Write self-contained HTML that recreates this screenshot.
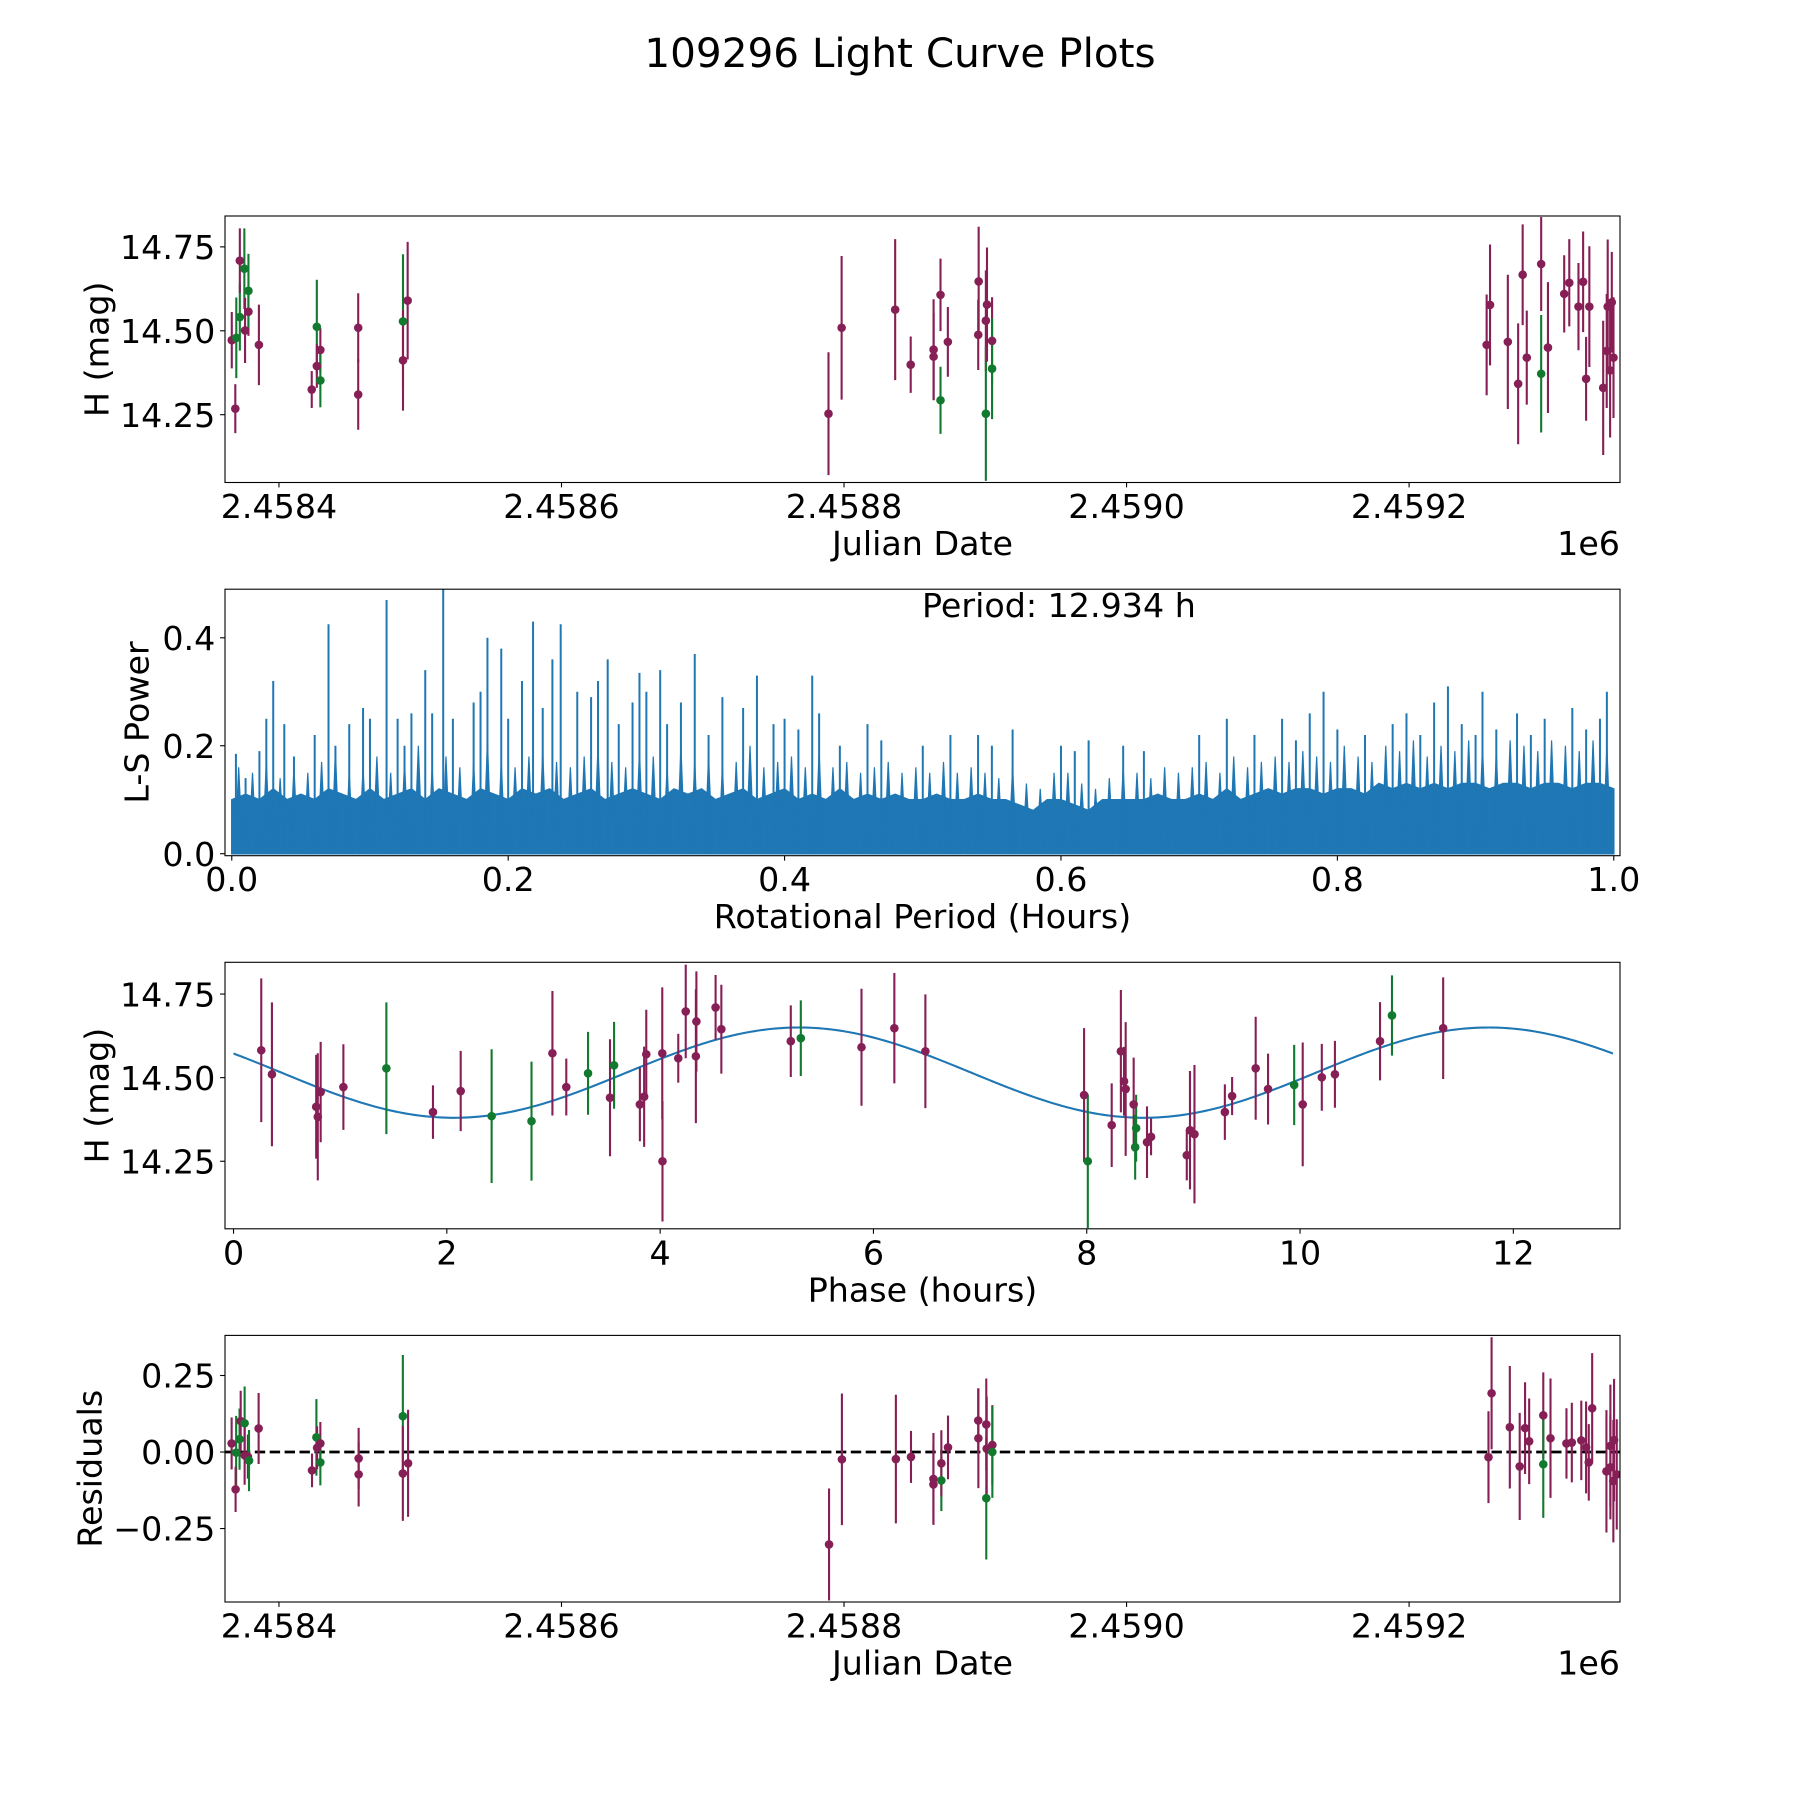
<!DOCTYPE html>
<html><head><meta charset="utf-8"><title>109296 Light Curve Plots</title>
<style>
html,body{margin:0;padding:0;background:#fff;}
svg{display:block;font-family:"DejaVu Sans","Liberation Sans",sans-serif;}
</style></head>
<body>
<svg id="fig" xmlns="http://www.w3.org/2000/svg" width="1800" height="1800" viewBox="0 0 1800 1800">
<rect x="0" y="0" width="1800" height="1800" fill="#fff"/>
<text x="900" y="67" font-size="40.5" text-anchor="middle" fill="#000">109296 Light Curve Plots</text>
</svg>
<script>
// ---------- data: top light curve (days after JD 2458400) ----------
const lcDays = [-33.4,-30.9,-30.2,-27.7,-27.7,-24.5,-24,-21.6,-21.6,-14.2,23.2,26.8,26.8,29.3,29.3,56.1,56.1,87.8,87.8,91.1,389,398.3,436.2,447.2,463.4,463.4,468.3,468.3,473.5,495,495.3,500.4,500.4,501.2,504.8,504.8,854.9,857.3,869.9,877.2,880.4,883.3,893.5,893.5,898.3,909.8,913.4,919.9,923.2,925.3,927.6,937.4,939.9,940.6,942.3,943.5,944.7];
const lcMags = [14.472,14.268,14.479,14.541,14.709,14.685,14.501,14.557,14.619,14.458,14.325,14.512,14.395,14.443,14.352,14.509,14.31,14.528,14.412,14.59,14.253,14.509,14.563,14.399,14.444,14.423,14.607,14.293,14.467,14.488,14.647,14.53,14.253,14.578,14.47,14.387,14.458,14.577,14.467,14.342,14.667,14.42,14.699,14.372,14.45,14.61,14.643,14.572,14.646,14.357,14.572,14.33,14.44,14.572,14.382,14.585,14.42];
const lcErrs = [0.084,0.073,0.12,0.1,0.096,0.12,0.097,0.072,0.11,0.12,0.055,0.14,0.065,0.065,0.08,0.103,0.105,0.2,0.15,0.175,0.183,0.214,0.21,0.084,0.15,0.13,0.108,0.1,0.104,0.105,0.163,0.15,0.2,0.17,0.13,0.15,0.15,0.18,0.2,0.18,0.15,0.14,0.14,0.175,0.195,0.115,0.13,0.13,0.15,0.125,0.18,0.2,0.17,0.2,0.2,0.15,0.18];
const lcBand = ['p','p','g','g','p','g','p','p','g','p','p','g','p','p','g','p','p','g','p','p','p','p','p','p','p','p','p','g','p','p','p','p','g','p','p','g','p','p','p','p','p','p','p','g','p','p','p','p','p','p','p','p','p','p','p','p','p'];
const jdTickDays = [0,200,400,600,800];
const jdTickLabels = ['2.4584','2.4586','2.4588','2.4590','2.4592'];
const magTicks = [14.25,14.5,14.75];
const magTickLabels = ['14.25','14.50','14.75'];

// ---------- data: periodogram ----------
const bulkPeriods = [0,0.01,0.02,0.03,0.04,0.05,0.06,0.07,0.08,0.09,0.1,0.11,0.12,0.13,0.14,0.15,0.16,0.17,0.18,0.19,0.2,0.21,0.22,0.23,0.24,0.25,0.26,0.27,0.28,0.29,0.3,0.31,0.32,0.33,0.34,0.35,0.36,0.37,0.38,0.39,0.4,0.41,0.42,0.43,0.44,0.45,0.46,0.47,0.48,0.49,0.5,0.51,0.52,0.53,0.54,0.55,0.56,0.57,0.58,0.59,0.6,0.61,0.62,0.63,0.64,0.65,0.66,0.67,0.68,0.69,0.7,0.71,0.72,0.73,0.74,0.75,0.76,0.77,0.78,0.79,0.8,0.81,0.82,0.83,0.84,0.85,0.86,0.87,0.88,0.89,0.9,0.91,0.92,0.93,0.94,0.95,0.96,0.97,0.98,0.99,1.0];
const bulkPowers = [.10,.11,.10,.12,.10,.11,.10,.12,.11,.10,.12,.10,.11,.12,.10,.12,.11,.10,.12,.11,.10,.12,.11,.12,.10,.11,.12,.10,.11,.12,.11,.10,.12,.11,.12,.10,.11,.12,.10,.11,.12,.10,.11,.10,.12,.10,.11,.10,.11,.10,.10,.11,.10,.10,.11,.10,.10,.09,.08,.10,.10,.09,.08,.10,.10,.10,.10,.11,.10,.10,.11,.10,.12,.10,.11,.12,.11,.12,.12,.11,.12,.12,.11,.13,.12,.13,.12,.13,.12,.13,.13,.12,.13,.13,.12,.13,.13,.12,.13,.13,.12];
const midPeriods = [0.005,0.015,0.025,0.035,0.045,0.055,0.065,0.075,0.085,0.095,0.105,0.115,0.125,0.135,0.145,0.155,0.165,0.175,0.185,0.195,0.205,0.215,0.225,0.235,0.245,0.255,0.265,0.275,0.285,0.295,0.305,0.315,0.325,0.335,0.345,0.355,0.365,0.375,0.385,0.395,0.405,0.415,0.425,0.435,0.445,0.455,0.465,0.475,0.485,0.495,0.505,0.515,0.525,0.535,0.545,0.555,0.565,0.575,0.585,0.595,0.605,0.615,0.625,0.635,0.645,0.655,0.665,0.675,0.685,0.695,0.705,0.715,0.725,0.735,0.745,0.755,0.765,0.775,0.785,0.795,0.805,0.815,0.825,0.835,0.845,0.855,0.865,0.875,0.885,0.895,0.905,0.915,0.925,0.935,0.945,0.955,0.965,0.975,0.985,0.995];
const midPowers = [.16,.15,.17,.14,.16,.15,.17,.19,.15,.16,.18,.15,.17,.2,.16,.18,.16,.17,.21,.17,.16,.18,.19,.17,.16,.18,.2,.17,.16,.19,.18,.16,.2,.17,.18,.16,.17,.2,.16,.17,.18,.16,.19,.16,.17,.15,.16,.17,.15,.16,.15,.17,.15,.16,.15,.14,.16,.13,.12,.15,.15,.13,.12,.14,.16,.15,.14,.16,.15,.16,.17,.15,.18,.16,.17,.18,.17,.19,.18,.17,.2,.18,.17,.2,.19,.21,.18,.2,.19,.21,.2,.19,.21,.2,.19,.21,.2,.19,.21,.2];
const peakPeriods = [0.003,0.01,0.02,0.025,0.03,0.038,0.045,0.06,0.07,0.075,0.085,0.095,0.1,0.112,0.12,0.125,0.13,0.14,0.145,0.153,0.16,0.175,0.18,0.185,0.195,0.2,0.21,0.218,0.225,0.232,0.238,0.25,0.26,0.265,0.272,0.28,0.29,0.295,0.3,0.31,0.315,0.325,0.335,0.345,0.355,0.37,0.38,0.392,0.4,0.41,0.42,0.425,0.44,0.46,0.47,0.5,0.52,0.54,0.55,0.565,0.6,0.61,0.62,0.645,0.66,0.7,0.72,0.74,0.76,0.77,0.78,0.79,0.8,0.82,0.84,0.85,0.86,0.87,0.88,0.89,0.9,0.905,0.915,0.93,0.94,0.95,0.97,0.98,0.99,0.995];
const peakPowers = [0.185,0.14,0.19,0.25,0.32,0.24,0.18,0.22,0.425,0.2,0.24,0.27,0.25,0.47,0.25,0.2,0.26,0.34,0.26,0.49,0.25,0.28,0.3,0.4,0.38,0.25,0.32,0.43,0.27,0.36,0.425,0.3,0.29,0.32,0.36,0.24,0.28,0.335,0.3,0.34,0.24,0.28,0.37,0.22,0.29,0.27,0.33,0.24,0.25,0.23,0.33,0.26,0.2,0.24,0.21,0.2,0.22,0.22,0.2,0.23,0.2,0.19,0.21,0.2,0.19,0.22,0.25,0.22,0.25,0.21,0.26,0.3,0.23,0.22,0.24,0.26,0.22,0.28,0.31,0.24,0.22,0.3,0.23,0.26,0.22,0.25,0.27,0.23,0.25,0.3];
const perXTicks = [0,0.2,0.4,0.6,0.8,1.0];
const perXLabels = ['0.0','0.2','0.4','0.6','0.8','1.0'];
const perYTicks = [0,0.2,0.4];
const perYLabels = ['0.0','0.2','0.4'];

// ---------- data: phased light curve ----------
const phHours = [0.26,0.36,0.775,0.79,0.817,1.03,1.433,1.87,2.13,2.42,2.794,2.99,3.12,3.324,3.53,3.568,3.81,3.85,3.87,4.022,4.02,4.17,4.24,4.335,4.34,4.52,4.574,5.225,5.319,5.888,6.196,6.487,7.975,8.01,8.234,8.32,8.35,8.365,8.44,8.463,8.454,8.565,8.603,8.938,8.968,9.01,9.295,9.363,9.584,9.7,9.945,10.025,10.204,10.327,10.75,10.862,11.342];
const phMags = [14.582,14.51,14.413,14.383,14.457,14.472,14.528,14.397,14.46,14.385,14.37,14.573,14.472,14.513,14.44,14.537,14.42,14.443,14.57,14.25,14.573,14.558,14.698,14.564,14.668,14.71,14.645,14.609,14.618,14.591,14.648,14.579,14.448,14.25,14.358,14.579,14.489,14.466,14.42,14.349,14.292,14.307,14.323,14.268,14.343,14.331,14.397,14.445,14.528,14.466,14.478,14.42,14.501,14.51,14.609,14.686,14.648];
const phErrs = [0.215,0.215,0.155,0.19,0.15,0.128,0.197,0.08,0.12,0.2,0.178,0.186,0.085,0.124,0.175,0.13,0.11,0.15,0.133,0.18,0.197,0.073,0.14,0.2,0.15,0.097,0.133,0.107,0.113,0.175,0.165,0.17,0.2,0.2,0.125,0.183,0.103,0.2,0.14,0.1,0.097,0.107,0.055,0.075,0.177,0.207,0.083,0.057,0.154,0.106,0.12,0.185,0.1,0.1,0.117,0.12,0.152];
const phBand = ['p','p','p','p','p','p','g','p','p','g','g','p','p','g','p','g','p','p','p','p','p','p','p','p','p','p','p','p','g','p','p','p','p','g','p','p','p','p','p','g','g','p','p','p','p','p','p','p','p','p','g','p','p','p','p','g','p'];
const fitParams = [14.515, 0.135, 5.3, 12.934]; // mean, amplitude, peak phase, period
const phXTicks = [0,2,4,6,8,10,12];
const phXLabels = ['0','2','4','6','8','10','12'];

// ---------- data: residuals ----------
const resDays = [-33.5,-30.3,-30.7,-27.9,-27.1,-24.3,-24.3,-22,-21.2,-14.4,23.4,26.5,27,29.3,29.3,56.4,56.4,87.7,87.7,91.4,389.4,398.5,436.7,447.4,463.3,463.3,468.9,468.9,473.6,495.1,495,500.7,500.7,501,505,505,856.2,858.4,871.3,878.3,882.1,885,895,895,900.1,911.4,915.2,921.9,925.3,927.2,929.6,939.7,942.5,942.5,944.6,945.1,947];
const resVals = [0.028,-0.002,-0.122,0.042,0.101,0.094,-0.011,-0.015,-0.028,0.077,-0.06,0.048,0.014,0.028,-0.034,-0.021,-0.073,0.117,-0.07,-0.037,-0.302,-0.024,-0.023,-0.016,-0.088,-0.106,-0.093,-0.037,0.015,0.045,0.103,0.09,-0.151,0.011,0.023,0.0,-0.017,0.192,0.081,-0.047,0.078,0.035,0.12,-0.04,0.045,0.028,0.031,0.038,0.015,-0.034,0.143,-0.063,0.02,-0.05,-0.095,0.039,-0.073];
const resErrs = [0.085,0.12,0.074,0.1,0.099,0.12,0.096,0.072,0.1,0.116,0.055,0.125,0.07,0.07,0.075,0.1,0.105,0.2,0.155,0.175,0.183,0.215,0.21,0.085,0.15,0.13,0.1,0.108,0.104,0.163,0.105,0.15,0.2,0.17,0.13,0.15,0.15,0.183,0.2,0.175,0.15,0.14,0.14,0.175,0.195,0.115,0.13,0.13,0.15,0.125,0.18,0.2,0.2,0.17,0.2,0.2,0.18];
const resBand = ['p','g','p','g','p','g','p','p','g','p','p','g','p','p','g','p','p','g','p','p','p','p','p','p','p','p','g','p','p','p','p','p','g','p','p','g','p','p','p','p','p','p','p','g','p','p','p','p','p','p','p','p','p','p','p','p','p'];
const resTicks = [-0.25,0,0.25];
const resTickLabels = ['\u22120.25','0.00','0.25'];

// ---------- rendering ----------
const NS = 'http://www.w3.org/2000/svg';
const svg = document.getElementById('fig');
const FS = 33.3;
const PURPLE = '#861F55', GREEN = '#117A2E', BLUE = '#1f77b4';
function el(tag, attrs, parent) {
  const e = document.createElementNS(NS, tag);
  for (const k in attrs) e.setAttribute(k, attrs[k]);
  (parent || svg).appendChild(e);
  return e;
}
function makeAxis(a) {
  a.sx = v => a.x0 + (v - a.xmin) / (a.xmax - a.xmin) * (a.x1 - a.x0);
  a.sy = v => a.y1 - (v - a.ymin) / (a.ymax - a.ymin) * (a.y1 - a.y0);
  const g = el('g', {});
  
  
  const cp = el('clipPath', {id: a.name + '-clip'}, g);
  el('rect', {x: a.x0, y: a.y0, width: a.x1 - a.x0, height: a.y1 - a.y0}, cp);
  a.g = g;
  a.plot = el('g', {'clip-path': 'url(#' + a.name + '-clip)'}, g);
  
  
  return a;
}
function frame(a, xt, xl, yt, yl, xlabel, ylabel, ylabelX, offsetText) {
  const g = a.g;
  const r = el('rect', {x: a.x0, y: a.y0, width: a.x1 - a.x0, height: a.y1 - a.y0, fill: 'none', stroke: '#000', 'stroke-width': 1.1}, g);
  
  
  xt.forEach((v, i) => {
    const x = a.sx(v);
    const t = el('line', {x1: x, x2: x, y1: a.y1, y2: a.y1 + 4.9, stroke: '#000', 'stroke-width': 1.1}, g);
    
    
    const lb = el('text', {x: x, y: a.y1 + 35.5, 'font-size': FS, 'text-anchor': 'middle'}, g);
    lb.textContent = xl[i];
    
    
  });
  yt.forEach((v, i) => {
    const y = a.sy(v);
    const t = el('line', {x1: a.x0 - 4.9, x2: a.x0, y1: y, y2: y, stroke: '#000', 'stroke-width': 1.1}, g);
    
    
    const lb = el('text', {x: a.x0 - 9.7, y: y + 12.2, 'font-size': FS, 'text-anchor': 'end'}, g);
    lb.textContent = yl[i];
    
    
  });
  const xa = el('text', {x: (a.x0 + a.x1) / 2, y: a.y1 + 72.5, 'font-size': FS, 'text-anchor': 'middle'}, g);
  xa.textContent = xlabel;
  
  
  const cy = (a.y0 + a.y1) / 2;
  const ya = el('text', {x: ylabelX, y: cy, 'font-size': FS, 'text-anchor': 'middle', 'dominant-baseline': 'central', transform: 'rotate(-90 ' + ylabelX + ' ' + cy + ')'}, g);
  ya.textContent = ylabel;
  
  
  if (offsetText) {
    const o = el('text', {x: a.x1, y: a.y1 + 72.5, 'font-size': FS, 'text-anchor': 'end'}, g);
    o.textContent = offsetText;
    
    
  }
}
function errorPoints(a, xs, ys, es, bands, nameBase) {
  xs.forEach((xv, i) => {
    const c = bands[i] === 'g' ? GREEN : PURPLE;
    const x = a.sx(xv);
    const eb = el('line', {x1: x, x2: x, y1: a.sy(ys[i] - es[i]), y2: a.sy(ys[i] + es[i]), stroke: c, 'stroke-width': 2.1}, a.plot);
    
    
  });
  xs.forEach((xv, i) => {
    const c = bands[i] === 'g' ? GREEN : PURPLE;
    const p = el('circle', {cx: a.sx(xv), cy: a.sy(ys[i]), r: 4.3, fill: c}, a.plot);
    
    
  });
}

// Axis 1: light curve
const ax1 = makeAxis({name: 'light-curve-axes', x0: 225, x1: 1620, y0: 216, y1: 482.5, xmin: -38.2, xmax: 949.3, ymin: 14.048, ymax: 14.842});
errorPoints(ax1, lcDays, lcMags, lcErrs, lcBand, 'light-curve');
frame(ax1, jdTickDays, jdTickLabels, magTicks, magTickLabels, 'Julian Date', 'H (mag)', 97, '1e6');

// Axis 2: periodogram
const ax2 = makeAxis({name: 'periodogram-axes', x0: 225, x1: 1620, y0: 589.2, y1: 855.7, xmin: -0.0049, xmax: 1.0045, ymin: -0.0037, ymax: 0.49});
let d = 'M' + ax2.sx(bulkPeriods[0]) + ' ' + ax2.sy(0);
bulkPeriods.forEach((p, i) => { d += ' L' + ax2.sx(p) + ' ' + ax2.sy(bulkPowers[i]); });
d += ' L' + ax2.sx(bulkPeriods[bulkPeriods.length - 1]) + ' ' + ax2.sy(0) + ' Z';
const bulk = el('path', {d: d, fill: BLUE, stroke: BLUE, 'stroke-width': 1.5}, ax2.plot);


midPeriods.forEach((p, i) => {
  const x = ax2.sx(p);
  const ln = el('path', {d: 'M' + (x - 4) + ' ' + ax2.sy(0) + ' L' + x + ' ' + ax2.sy(midPowers[i]) + ' L' + (x + 4) + ' ' + ax2.sy(0) + ' Z', fill: BLUE, stroke: BLUE, 'stroke-width': 1.2}, ax2.plot);
  
  
});
peakPeriods.forEach((p, i) => {
  const x = ax2.sx(p);
  const ln = el('line', {x1: x, x2: x, y1: ax2.sy(0), y2: ax2.sy(peakPowers[i]), stroke: BLUE, 'stroke-width': 2}, ax2.plot);
  
  
});
frame(ax2, perXTicks, perXLabels, perYTicks, perYLabels, 'Rotational Period (Hours)', 'L-S Power', 137, null);
const pt = el('text', {x: 922, y: 617, 'font-size': FS}, ax2.g);
pt.textContent = 'Period: 12.934 h';



// Axis 3: phased
const ax3 = makeAxis({name: 'phase-axes', x0: 225, x1: 1620, y0: 962.3, y1: 1228.8, xmin: -0.08, xmax: 13.0, ymin: 14.048, ymax: 14.845});
let fd = '';
for (let k = 0; k <= 400; k++) {
  const ph = fitParams[3] * k / 400;
  const m = fitParams[0] + fitParams[1] * Math.cos(4 * Math.PI * (ph - fitParams[2]) / fitParams[3]);
  fd += (k ? ' L' : 'M') + ax3.sx(ph).toFixed(2) + ' ' + ax3.sy(m).toFixed(2);
}
const fit = el('path', {d: fd, fill: 'none', stroke: BLUE, 'stroke-width': 2.1}, ax3.plot);


errorPoints(ax3, phHours, phMags, phErrs, phBand, 'phase');
frame(ax3, phXTicks, phXLabels, magTicks, magTickLabels, 'Phase (hours)', 'H (mag)', 97, null);

// Axis 4: residuals
const ax4 = makeAxis({name: 'residuals-axes', x0: 225, x1: 1620, y0: 1335.4, y1: 1602, xmin: -38.2, xmax: 949.3, ymin: -0.49, ymax: 0.381});
const zl = el('line', {x1: ax4.x0, x2: ax4.x1, y1: ax4.sy(0), y2: ax4.sy(0), stroke: '#000', 'stroke-width': 2.8, 'stroke-dasharray': '10.4 4.5'}, ax4.plot);


errorPoints(ax4, resDays, resVals, resErrs, resBand, 'residual');
frame(ax4, jdTickDays, jdTickLabels, resTicks, resTickLabels, 'Julian Date', 'Residuals', 90, '1e6');
</script>
</body></html>
